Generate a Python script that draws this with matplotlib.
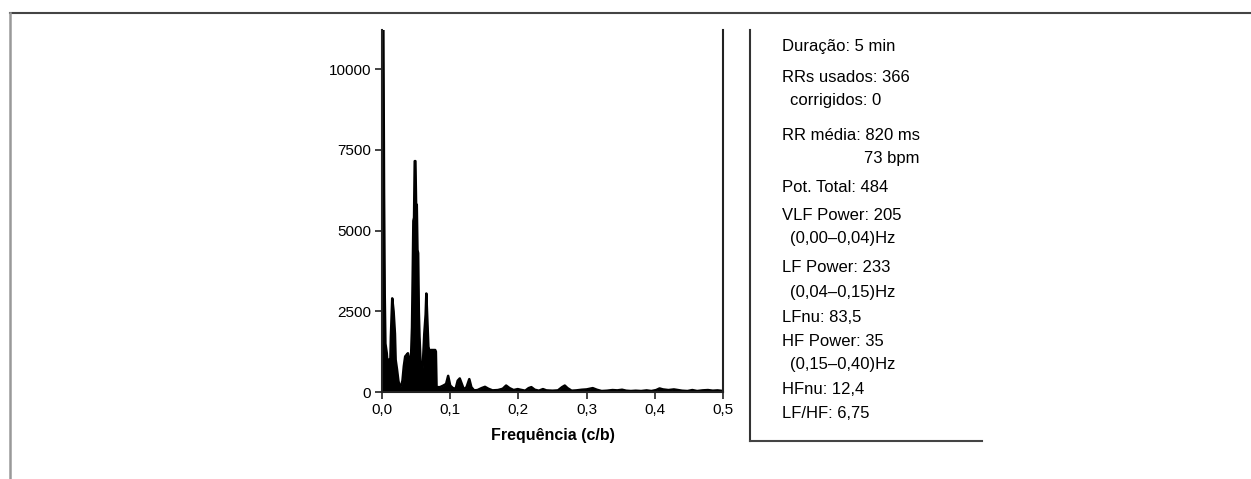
import matplotlib
matplotlib.use("Agg")
import matplotlib.pyplot as plt
from matplotlib.lines import Line2D

# espectro de potência (frequência em ciclos/batimento)
freq = [0.000, 0.002, 0.003, 0.004, 0.005, 0.007, 0.008, 0.010, 0.011, 0.012,
        0.013, 0.015, 0.017, 0.019, 0.020, 0.022, 0.024, 0.026, 0.028, 0.030,
        0.032, 0.034, 0.036, 0.038, 0.040, 0.042, 0.044, 0.045, 0.046, 0.047,
        0.048, 0.049, 0.050, 0.051, 0.052, 0.053, 0.054, 0.055, 0.056, 0.057,
        0.058, 0.060, 0.062, 0.064, 0.065, 0.066, 0.068, 0.070, 0.072, 0.075,
        0.078, 0.079, 0.080, 0.085, 0.090, 0.094, 0.097, 0.100, 0.104, 0.108,
        0.111, 0.114, 0.117, 0.120, 0.124, 0.128, 0.131, 0.135, 0.140, 0.146,
        0.151, 0.156, 0.162, 0.170, 0.177, 0.182, 0.187, 0.193, 0.199, 0.203,
        0.210, 0.215, 0.219, 0.224, 0.230, 0.236, 0.241, 0.250, 0.258, 0.264,
        0.268, 0.272, 0.278, 0.285, 0.293, 0.300, 0.309, 0.315, 0.322, 0.330,
        0.338, 0.345, 0.352, 0.358, 0.365, 0.372, 0.380, 0.388, 0.395, 0.402,
        0.407, 0.412, 0.420, 0.428, 0.434, 0.440, 0.448, 0.455, 0.462, 0.470,
        0.478, 0.485, 0.492, 0.500]
power = [11300, 11300, 6200, 3000, 1500, 1200, 900, 1000, 400, 700,
         1700, 2900, 2500, 1800, 1000, 700, 350, 150, 200, 350,
         800, 1100, 1150, 1200, 1000, 700, 2000, 3600, 5300, 5400,
         7150, 7150, 5800, 5800, 4400, 4300, 2500, 1700, 1200, 600,
         350, 900, 1800, 2400, 3050, 2500, 1400, 1250, 1300, 1300,
         1300, 1250, 150, 150, 200, 250, 500, 200, 120, 100,
         350, 420, 250, 80, 150, 400, 150, 50, 60, 120,
         160, 100, 50, 60, 100, 200, 120, 60, 90, 70,
         40, 120, 150, 70, 40, 90, 50, 40, 50, 150,
         200, 120, 40, 50, 70, 80, 120, 70, 30, 40,
         60, 50, 70, 40, 30, 40, 30, 50, 30, 60,
         110, 80, 60, 80, 60, 40, 30, 60, 30, 50,
         60, 40, 50, 30]

xticks = [0.0, 0.1, 0.2, 0.3, 0.4, 0.5]
xticklabels = ["0,0", "0,1", "0,2", "0,3", "0,4", "0,5"]
yticks = [0, 2500, 5000, 7500, 10000]

# texto do painel da direita: (texto, recuo)
info_lines = [
    ("Duração: 5 min", 0),
    ("RRs usados: 366", 0),
    ("corrigidos: 0", 1),
    ("RR média: 820 ms", 0),
    ("73 bpm", 2),
    ("Pot. Total: 484", 0),
    ("VLF Power: 205", 0),
    ("(0,00–0,04)Hz", 1),
    ("LF Power: 233", 0),
    ("(0,04–0,15)Hz", 1),
    ("LFnu: 83,5", 0),
    ("HF Power: 35", 0),
    ("(0,15–0,40)Hz", 1),
    ("HFnu: 12,4", 0),
    ("LF/HF: 6,75", 0),
]
info_y = [47, 77, 101, 135, 158, 188, 215, 238, 268, 293, 318, 342, 365, 390, 413]

plt.rcParams["font.family"] = ["Liberation Sans", "DejaVu Sans"]

W, H = 1251, 479
fig = plt.figure(figsize=(W / 100, H / 100), dpi=100)

ax = fig.add_axes([382 / W, 1 - 392 / H, (723 - 382) / W, (392 - 30) / H])
ax.fill_between(freq, power, 0, color="black", linewidth=0)
ax.plot(freq, power, color="black", linewidth=1.8)
ax.set_xlim(0, 0.5)
ax.set_ylim(0, 11210)
ax.set_xticks(xticks)
ax.set_xticklabels(xticklabels)
ax.set_yticks(yticks)
ax.tick_params(labelsize=11, length=5, width=1.2, color="#222222", pad=3)
ax.spines["top"].set_visible(False)
for s in ["left", "bottom", "right"]:
    ax.spines[s].set_linewidth(1.5)
    ax.spines[s].set_color("#222222")
ax.set_xlabel("Frequência (c/b)", fontsize=11.5, fontweight="bold", labelpad=8)

# moldura externa
fig.add_artist(Line2D([10 / W, 1], [1 - 12.5 / H] * 2, color="#444444", lw=1.5))
fig.add_artist(Line2D([10 / W] * 2, [0, 1 - 12.5 / H], color="#999999", lw=1.8))

# painel de resultados
fig.add_artist(Line2D([750 / W] * 2, [1 - 30 / H, 1 - 441 / H], color="#333333", lw=1.5))
fig.add_artist(Line2D([750 / W, 982 / W], [1 - 441 / H] * 2, color="#444444", lw=1.5))

for (txt, ind), y in zip(info_lines, info_y):
    if ind == 2:
        fig.text(920 / W, 1 - y / H, txt, ha="right", va="center", fontsize=12)
    else:
        x = 782 if ind == 0 else 790
        fig.text(x / W, 1 - y / H, txt, ha="left", va="center", fontsize=12)

fig.savefig("out.png", dpi=100)
